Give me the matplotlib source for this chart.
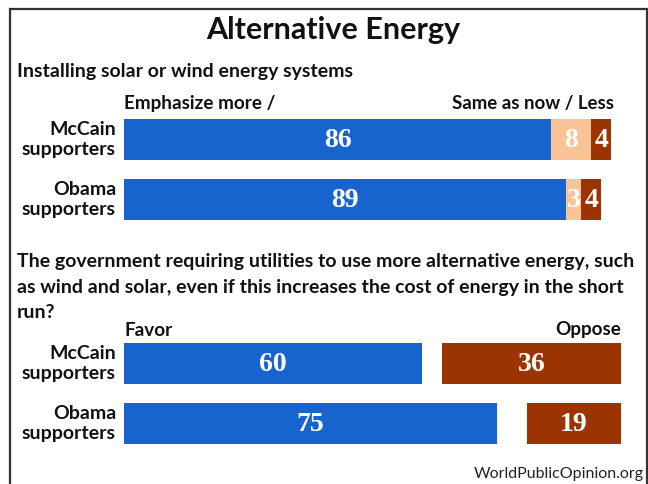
import matplotlib
matplotlib.use("Agg")
import matplotlib.pyplot as plt
from matplotlib.patches import Rectangle

# ---- data ----
groups = ["McCain\nsupporters", "Obama\nsupporters"]
emphasize_more = [86, 89]
same_as_now = [8, 3]
less = [4, 4]
favor = [60, 75]
oppose = [36, 19]

title = "Alternative Energy"
q1 = "Installing solar or wind energy systems"
q2_lines = ["The government requiring utilities to use more alternative energy, such",
            "as wind and solar, even if this increases the cost of energy in the short",
            "run?"]
source = "WorldPublicOpinion.org"

BLUE = "#1764CF"
PEACH = "#F8C496"
BROWN = "#9B3400"

W, H = 648, 484
fig = plt.figure(figsize=(W / 100, H / 100), dpi=100)
plt.rcParams['font.family'] = ['Lato', 'DejaVu Sans']

def fx(px):
    return px / W

def fy(py):
    return 1 - py / H

# border
fig.add_artist(Rectangle((fx(9.5), fy(500)), fx(647 - 9.5), (500 - 9.5) / H,
                         transform=fig.transFigure, fill=False, lw=1.6,
                         edgecolor="#333333"))

TXT = "#111111"
fig.text(fx(333), fy(30), title, ha="center", va="center", fontsize=22,
         fontweight="bold", color=TXT)
fig.text(fx(17), fy(72), q1, ha="left", va="center", fontsize=14,
         fontweight="bold", color=TXT)
fig.text(fx(124), fy(103), "Emphasize more /", ha="left", va="center",
         fontsize=13.6, fontweight="bold", color=TXT)
fig.text(fx(614), fy(103), "Same as now / Less", ha="right", va="center",
         fontsize=13.4, fontweight="bold", color=TXT)
for i, line in enumerate(q2_lines):
    fig.text(fx(17), fy(262 + 25 * i), line, ha="left", va="center",
             fontsize=14, fontweight="bold", color=TXT)
fig.text(fx(124), fy(330), "Favor", ha="left", va="center",
         fontsize=13.6, fontweight="bold", color=TXT)
fig.text(fx(621), fy(330), "Oppose", ha="right", va="center",
         fontsize=13.6, fontweight="bold", color=TXT)
fig.text(fx(644), fy(474), source, ha="right", va="center",
         fontsize=11.5, color="#222222")

x0, x1 = 124, 621  # pixel extent for 0..100


def make_ax(ytop, ybot):
    ax = fig.add_axes([fx(x0), fy(ybot), fx(x1 - x0), (ybot - ytop) / H])
    ax.set_xlim(0, 100)
    ax.set_ylim(1.5, -0.5)
    ax.axis("off")
    return ax

num_font = dict(family=["Liberation Serif", "DejaVu Serif"], fontweight="bold",
                fontsize=20, color="white", ha="center", va="center")

# ---- top section ----
ax1 = make_ax(109.5, 229.5)
ys = [0, 1]
bh = 0.67
ax1.barh(ys, emphasize_more, height=bh, color=BLUE)
ax1.barh(ys, same_as_now, left=emphasize_more, height=bh, color=PEACH)
lefts = [a + b for a, b in zip(emphasize_more, same_as_now)]
ax1.barh(ys, less, left=lefts, height=bh, color=BROWN)
for y, e, s, l, lf in zip(ys, emphasize_more, same_as_now, less, lefts):
    ax1.text(e / 2, y + 0.02, str(e), **num_font)
    ax1.text(e + s / 2, y + 0.02, str(s), **num_font)
    ax1.text(lf + l / 2, y + 0.02, str(l), **num_font)

# ---- bottom section ----
ax2 = make_ax(333.5, 453.5)
ax2.barh(ys, favor, height=bh, color=BLUE)
opp_left = [100 - o for o in oppose]
ax2.barh(ys, oppose, left=opp_left, height=bh, color=BROWN)
for y, f, o, ol in zip(ys, favor, oppose, opp_left):
    ax2.text(f / 2, y + 0.02, str(f), **num_font)
    ax2.text(ol + o / 2, y + 0.02, str(o), **num_font)

# group labels
for base in (139.5, 199.5, 363.5, 423.5):
    idx = 0 if base in (139.5, 363.5) else 1
    fig.text(fx(116), fy(base), groups[idx], ha="right", va="center",
             fontsize=14, fontweight="bold", color=TXT,
             linespacing=1.2, multialignment="right")

fig.savefig("out.png", dpi=100)
